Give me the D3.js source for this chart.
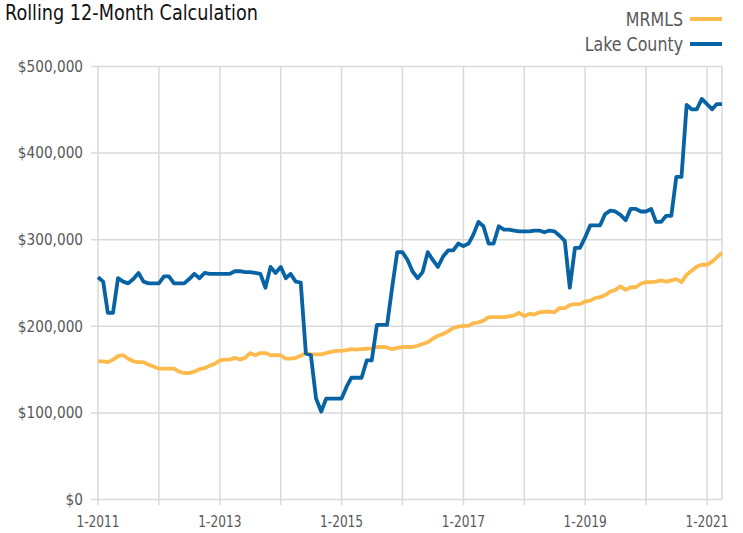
<!DOCTYPE html>
<html>
<head>
<meta charset="utf-8">
<title>Rolling 12-Month Calculation</title>
<script src="https://d3js.org/d3.v7.min.js"></script>
<style>
  body { margin: 0; background: #fff; }
  svg text { font-family: "Liberation Sans Narrow", "Arial Narrow", "DejaVu Sans Condensed", sans-serif; }
</style>
</head>
<body>
<svg width="743" height="533"></svg>
<script>
// monthly values, Jan 2011 .. Apr 2021, in thousands of dollars
const startMonth = new Date(2011, 0, 1)
const lakeCounty = [
  256, 251, 215, 215, 255, 251, 249, 254, 261, 251, 249, 249,
  249, 257, 257, 249, 249, 249, 254, 260, 255, 261, 260, 260,
  260, 260, 260, 263, 263, 262, 262, 261, 260, 244, 268, 261,
  268, 255, 260, 251, 250, 168, 166, 116, 101, 116, 116, 116,
  116, 130, 140, 140, 140, 160, 160, 201, 201, 201, 245, 285,
  285, 276, 263, 255, 262, 285, 276, 268, 280, 287, 287, 295,
  292, 295, 305, 320, 315, 295, 295, 315, 311, 311, 310, 309,
  309, 309, 310, 310, 308, 310, 309, 304, 298, 244, 290, 290,
  302, 316, 316, 316, 329, 333, 332, 328, 322, 335, 335, 332,
  332, 335, 320, 320, 327, 327, 372, 372, 455, 450, 450, 462,
  456, 450, 456, 456
]
const mrmls = [
  159, 159, 158, 161, 165, 166, 162, 159, 158, 158, 155, 153,
  150.5, 150.5, 150.5, 150.5, 147, 145.5, 145.5, 147, 150, 151, 154, 156,
  160, 161, 161, 163, 161, 163, 168.5, 166, 168.5, 168.5, 166, 166,
  166, 162, 162, 163, 165.5, 168.5, 167, 167, 167, 168.5, 170, 171,
  171, 172, 173, 172.5, 173, 173.5, 174, 175.5, 175.5, 175, 173, 174.5,
  175.5, 175.5, 175.5, 177, 179, 181, 185, 188.5, 190.5, 193.5, 197.5, 199,
  200, 200, 203, 204, 206, 210, 210, 210, 210, 211, 212, 215,
  211, 214, 213, 215.5, 216, 216.5, 215.5, 220.5, 220.5, 224, 225, 225,
  228, 229, 232, 233, 235.5, 239.5, 241.5, 245.5, 241.5, 244.5, 244.5, 248.5,
  250.5, 250.5, 251, 252.5, 251, 252.5, 254, 250.5, 259, 263.5, 268.5, 270.5,
  270.5, 274, 279, 284.5
]
const seriesNames = ["MRMLS", "Lake County"]
const seriesColors = ["#fdba4d", "#0863a4"]
const yTicks = [0, 100, 200, 300, 400, 500]
const gridYears = [2011, 2012, 2013, 2014, 2015, 2016, 2017, 2018, 2019, 2020, 2021]
const labelYears = [2011, 2013, 2015, 2017, 2019, 2021]

const months = lakeCounty.map((d, i) => d3.timeMonth.offset(startMonth, i))
const lastMonth = months[months.length - 1]

const svg = d3.select("svg")
const plotLeft = 98, plotRight = 722, plotTop = 66, plotBottom = 499

const x = d3.scaleTime().domain([startMonth, lastMonth]).range([plotLeft, plotRight])
const y = d3.scaleLinear().domain([0, 500]).range([plotBottom, plotTop])

const grid = "#d9d9d9"

// squeeze text horizontally to mimic the condensed face of the original
function squeeze(sel, k) {
  sel.each(function () {
    const w = this.getComputedTextLength()
    d3.select(this).attr("textLength", w * k).attr("lengthAdjust", "spacingAndGlyphs")
  })
}

// horizontal gridlines + y labels
svg.append("g")
  .attr("transform", `translate(${plotLeft},0)`)
  .call(d3.axisLeft(y).tickValues(yTicks)
    .tickSize(-(plotRight - plotLeft))
    .tickFormat(d => d === 0 ? "$0" : "$" + d3.format(",")(d * 1000)))
  .call(g => g.select(".domain").remove())
  .call(g => g.selectAll(".tick line").attr("stroke", grid).attr("stroke-width", 1.5)
    .attr("x1", -7))
  .call(g => g.selectAll(".tick text").attr("fill", "#595959").attr("font-size", 16.5)
    .attr("x", -15).call(squeeze, 0.92))

// vertical gridlines at each January, plus right edge
const vgrid = gridYears.map(yr => new Date(yr, 0, 1))
svg.append("g").selectAll("line")
  .data(vgrid.concat([lastMonth]))
  .join("line")
  .attr("x1", d => x(d)).attr("x2", d => x(d))
  .attr("y1", plotTop).attr("y2", d => d === lastMonth ? plotBottom : plotBottom + 6)
  .attr("stroke", grid).attr("stroke-width", 1.5)

// x labels
svg.append("g").selectAll("text")
  .data(labelYears)
  .join("text")
  .attr("x", d => x(new Date(d, 0, 1)))
  .attr("y", 527)
  .attr("text-anchor", "middle")
  .attr("fill", "#595959")
  .attr("font-size", 16.5)
  .text(d => "1-" + d)
  .call(squeeze, 0.82)

const line = d3.line()
  .x((d, i) => x(months[i]))
  .y(d => y(d))

svg.append("path")
  .datum(mrmls)
  .attr("d", line)
  .attr("fill", "none")
  .attr("stroke", seriesColors[0])
  .attr("stroke-width", 3.8)
  .attr("stroke-linejoin", "round")

svg.append("path")
  .datum(lakeCounty)
  .attr("d", line)
  .attr("fill", "none")
  .attr("stroke", seriesColors[1])
  .attr("stroke-width", 3.8)
  .attr("stroke-linejoin", "round")

// title
svg.append("text")
  .attr("x", 5).attr("y", 20)
  .attr("font-size", 21)
  .attr("fill", "#111")
  .attr("textLength", 253)
  .attr("lengthAdjust", "spacingAndGlyphs")
  .text("Rolling 12-Month Calculation")

// legend
const legend = svg.append("g").selectAll("g")
  .data(seriesNames)
  .join("g")
  .attr("transform", (d, i) => `translate(0,${19 + i * 25})`)
legend.append("text")
  .attr("x", 683).attr("y", 7)
  .attr("text-anchor", "end")
  .attr("fill", "#595959")
  .attr("font-size", 20)
  .text(d => d)
  .call(squeeze, 0.88)
legend.append("line")
  .attr("x1", 690).attr("x2", 722)
  .attr("y1", 0).attr("y2", 0)
  .attr("stroke", (d, i) => seriesColors[i])
  .attr("stroke-width", 4)
</script>
</body>
</html>
